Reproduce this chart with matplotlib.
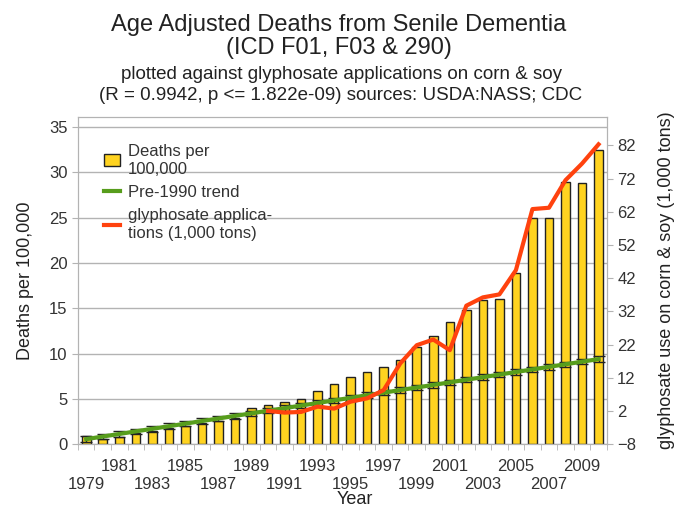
import matplotlib
matplotlib.use('Agg')
import matplotlib.pyplot as plt
import matplotlib.patches as mpatches
import numpy as np

plt.rcParams['font.family'] = ['Liberation Sans', 'DejaVu Sans']

years = list(range(1979, 2011))
deaths = [0.9, 0.55, 0.8, 1.18, 1.45, 1.73, 2.02, 2.35, 2.57, 2.83, 3.94, 4.3,
          4.67, 4.93, 5.9, 6.66, 7.43, 7.91, 8.53, 9.34, 10.67, 11.96, 13.5, 14.86,
          15.86, 15.97, 18.87, 24.94, 24.94, 28.95, 28.8, 32.45]
trend = [0.55, 0.84, 1.12, 1.41, 1.69, 1.98, 2.26, 2.55, 2.83, 3.12, 3.40, 3.69,
         3.97, 4.26, 4.54, 4.83, 5.11, 5.40, 5.68, 5.97, 6.25, 6.54, 6.82, 7.11,
         7.39, 7.68, 7.96, 8.25, 8.53, 8.82, 9.10, 9.39]
gly_years = list(range(1990, 2011))
glyphosate = [2.0, 1.5, 1.7, 3.3, 2.7, 4.8, 5.8, 8.3, 16.3, 21.8, 23.5, 20.3,
              33.7, 36.2, 37.1, 44.4, 62.8, 63.2, 71.5, 76.5, 82.3]

yellow = '#FFD320'
green = '#579D1C'
red = '#FF420E'
grey = '#b3b3b3'
txt = '#333333'

fig = plt.figure(figsize=(6.78, 5.07), dpi=100)
ax = fig.add_axes([0.115, 0.124, 0.780, 0.645])

x = np.arange(len(years))
ax.bar(x, deaths, width=0.52, color=yellow, edgecolor='#222222', linewidth=1, zorder=2)
ax.errorbar(x, trend, yerr=0.3, color=green, lw=3, ecolor='#222222',
            elinewidth=1, capsize=4, capthick=1, zorder=3)

ax.set_xlim(-0.5, len(years) - 0.5)
ax.set_ylim(0, 36.1)
ax.set_yticks(np.arange(0, 36, 5))
ax.yaxis.grid(True, color=grey, lw=1)
ax.set_axisbelow(True)

# labels on odd years, staggered on two rows
odd = [i for i, y in enumerate(years) if y % 2 == 1]
ax.set_xticks(odd)
ax.set_xticklabels([str(years[i]) for i in odd], fontsize=12, color=txt)
ax.tick_params(axis='x', which='major', length=0)
for k, t in enumerate(ax.xaxis.get_major_ticks()):
    t.set_pad(24 if k % 2 == 0 else 11)
ax.set_xticks(np.arange(-0.5, len(years), 1), minor=True)
ax.tick_params(axis='x', which='minor', length=4, color=grey)
ax.tick_params(axis='y', length=4, color=grey, labelsize=12, labelcolor=txt)
for s in ax.spines.values():
    s.set_color(grey)

ax.set_xlabel('Year', fontsize=13, color='#222222')
ax.xaxis.set_label_coords(0.523, -0.143)
ax.set_ylabel('Deaths per 100,000', fontsize=13, labelpad=11, color='#222222')

ax2 = ax.twinx()
gx = [years.index(y) for y in gly_years]
ax2.plot(gx, glyphosate, color=red, lw=3, zorder=4)
ax2.set_ylim(-8, 90.5)
ax2.set_yticks(np.arange(-8, 83, 10))
ax2.tick_params(axis='y', length=4, color=grey, labelsize=12, labelcolor=txt)
for s in ax2.spines.values():
    s.set_color(grey)
ax2.set_ylabel('glyphosate use on corn & soy (1,000 tons)', fontsize=13,
               labelpad=16, color='#222222')

handles = [mpatches.Patch(facecolor=yellow, edgecolor='#222222'),
           plt.Line2D([], [], color=green, lw=3),
           plt.Line2D([], [], color=red, lw=3)]
names = ['Deaths per\n100,000', 'Pre-1990 trend', 'glyphosate applica-\ntions (1,000 tons)']
leg = ax.legend(handles, names, loc='upper left', bbox_to_anchor=(0.02, 0.965),
                frameon=False, fontsize=12, handlelength=1.0, handletextpad=0.45,
                labelspacing=0.5)
for t in leg.get_texts():
    t.set_color(txt)
    t.set_linespacing(1.25)

fig.text(0.5, 0.972, 'Age Adjusted Deaths from Senile Dementia\n(ICD F01, F03 & 290)',
         ha='center', va='top', fontsize=17, color='#222222', linespacing=1.05)
fig.text(0.503, 0.870, 'plotted against glyphosate applications on corn & soy\n'
         '(R = 0.9942, p <= 1.822e-09) sources: USDA:NASS; CDC',
         ha='center', va='top', fontsize=13.5, color='#222222', linespacing=1.3)

fig.savefig('out.png', dpi=100)
